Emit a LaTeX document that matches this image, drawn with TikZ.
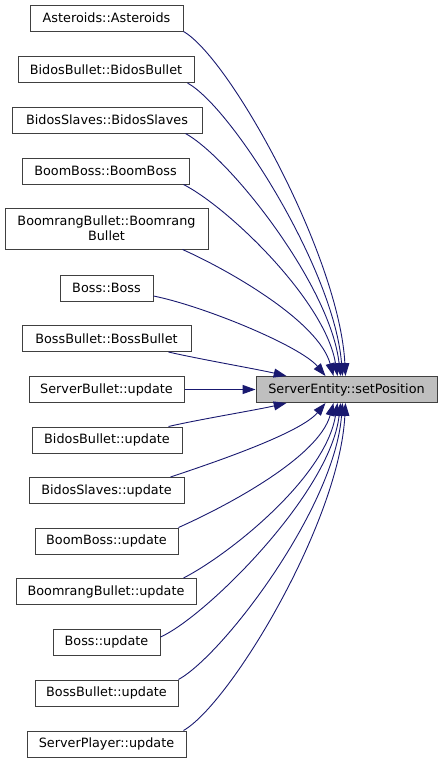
\documentclass[tikz,border=0pt]{standalone}
\usepackage{fontspec}
\setmainfont{DejaVu Sans}
\usetikzlibrary{arrows.meta}

\begin{document}
\begin{tikzpicture}[
    x=1pt, y=-1pt,
    every node/.style={font=\fontsize{12.8}{15}\selectfont},
    caller/.style={
        draw=boxgray,
        fill=white,
        line width=1pt,
        minimum height=26pt,
        inner sep=0pt,
        align=center,
    },
    call/.style={
        -{Triangle[length=12.8pt, width=9pt]},
        draw=edgeblue,
        fill=none,
        line width=0.9pt,
    }
]

% Colors matching the original
\definecolor{edgeblue}{HTML}{191970}
\definecolor{boxgray}{HTML}{404040}
\definecolor{targetfill}{HTML}{BFBFBF}

\useasboundingbox (0,0) rectangle (443,763);

% Callers, top to bottom
\node[caller, minimum width=153pt] (C1) at (106.5,18) {Asteroids::Asteroids};
\node[caller, minimum width=176pt] (C2) at (106,69.5) {BidosBullet::BidosBullet};
\node[caller, minimum width=190pt] (C3) at (107,120) {BidosSlaves::BidosSlaves};
\node[caller, minimum width=167pt] (C4) at (105.5,171) {BoomBoss::BoomBoss};
\node[caller, minimum width=203pt, minimum height=41pt] (C5) at (106.5,228.5) {BoomrangBullet::Boomrang\\Bullet};
\node[caller, minimum width=93pt] (C6) at (106.5,288) {Boss::Boss};
\node[caller, minimum width=169pt] (C7) at (106.5,338.5) {BossBullet::BossBullet};
\node[caller, minimum width=155pt] (C8) at (106.5,389.5) {ServerBullet::update};
\node[caller, minimum width=150pt] (C9) at (107,440) {BidosBullet::update};
\node[caller, minimum width=155pt] (C10) at (106.5,490.5) {BidosSlaves::update};
\node[caller, minimum width=143pt] (C11) at (106.5,541) {BoomBoss::update};
\node[caller, minimum width=180pt] (C12) at (106,591.5) {BoomrangBullet::update};
\node[caller, minimum width=107pt] (C13) at (106.5,642) {Boss::update};
\node[caller, minimum width=143pt] (C14) at (106.5,693) {BossBullet::update};
\node[caller, minimum width=159pt] (C15) at (106.5,744) {ServerPlayer::update};

% Called function
\node[caller, fill=targetfill, minimum width=181pt] (SP) at (346.5,389.5) {ServerEntity::setPosition};

% Calls from above
\draw[call] (C1.south east) .. controls +(47,27) and +(-6,-119) .. ([xshift=90pt]SP.north west);
\draw[call] ([xshift=-7pt]C2.south east) .. controls +(45,25) and +(-8,-105) .. ([xshift=87pt]SP.north west);
\draw[call] ([xshift=-17pt]C3.south east) .. controls +(45,25) and +(-10,-90) .. ([xshift=85pt]SP.north west);
\draw[call] ([xshift=-6pt]C4.south east) .. controls +(45,23) and +(-12,-75) .. ([xshift=82pt]SP.north west);
\draw[call] ([xshift=-26pt]C5.south east) .. controls +(45,20) and +(-15,-55) .. ([xshift=78pt]SP.north west);
\draw[call] ([yshift=-8pt]C6.east) .. controls +(50,10) and +(-25,-30) .. ([xshift=70pt]SP.north west);
\draw[call] ([xshift=-23pt]C7.south east) .. controls +(30,7) and +(-30,-7) .. ([xshift=31pt]SP.north west);

% Straight call
\draw[call] (C8.east) -- (SP.west);

% Calls from below
\draw[call] ([xshift=-14pt]C9.north east) .. controls +(30,-7) and +(-30,7) .. ([xshift=31pt]SP.south west);
\draw[call] ([xshift=-14pt]C10.north east) .. controls +(45,-15) and +(-25,30) .. ([xshift=70pt]SP.south west);
\draw[call] (C11.north east) .. controls +(45,-20) and +(-15,55) .. ([xshift=78pt]SP.south west);
\draw[call] ([xshift=-13pt]C12.north east) .. controls +(45,-23) and +(-12,75) .. ([xshift=82pt]SP.south west);
\draw[call] ([yshift=5pt]C13.east) .. controls +(45,-20) and +(-10,90) .. ([xshift=85pt]SP.south west);
\draw[call] (C14.north east) .. controls +(45,-25) and +(-8,105) .. ([xshift=87pt]SP.south west);
\draw[call] ([xshift=-3pt]C15.north east) .. controls +(47,-27) and +(-6,119) .. ([xshift=90pt]SP.south west);

\end{tikzpicture}
\end{document}
